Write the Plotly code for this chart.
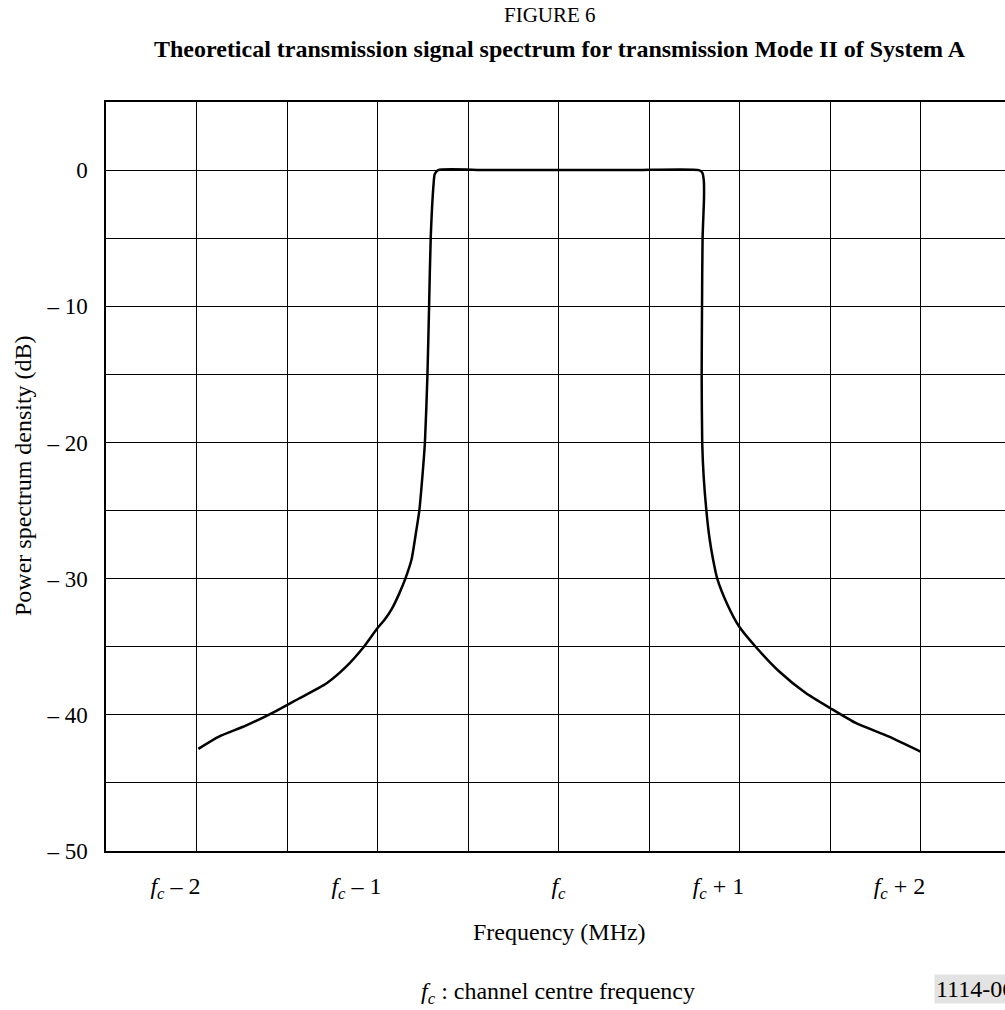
import plotly.graph_objects as go

# ---- data (MHz offset from f_c, dB) ----
freq_offset = [-1.99, -1.876, -1.728, -1.572, -1.434, -1.283, -1.176, -1.075, -1.004, -0.960,
               -0.920, -0.880, -0.846, -0.812, -0.786, -0.769, -0.752, -0.738, -0.724, -0.715,
               -0.706, -0.690, -0.684, -0.665, -0.4, 0.0, 0.4, 0.776, 0.795, 0.803, 0.804,
               0.796, 0.793, 0.791, 0.794, 0.802, 0.817, 0.834, 0.854, 0.877, 0.933, 0.997,
               1.089, 1.218, 1.366, 1.500, 1.642, 1.826, 2.000]
psd_db = [-42.5, -41.6, -40.8, -39.8, -38.8, -37.7, -36.5, -35.0, -33.7, -33.0,
          -32.2, -31.1, -30.0, -28.6, -26.5, -25.0, -22.5, -20.0, -15.0, -10.0,
          -5.0, -1.0, -0.3, 0.0, 0.0, 0.0, 0.0, 0.0, -0.2, -0.8, -2.0,
          -5.0, -10.0, -15.0, -20.0, -22.5, -25.0, -27.0, -28.6, -30.0, -31.9, -33.5,
          -35.0, -36.8, -38.4, -39.5, -40.6, -41.6, -42.7]

NB = "\u00a0" * 7
x_tick_vals = [-2, -1, 0, 1, 2]
x_tick_text = ["<i>f<sub>c</sub></i> – 2" + NB, "<i>f<sub>c</sub></i> – 1" + NB, "<i>f<sub>c</sub></i>",
               "<i>f<sub>c</sub></i> + 1" + NB, "<i>f<sub>c</sub></i> + 2" + NB]
y_tick_vals = [0, -10, -20, -30, -40, -50]
y_tick_text = ["0", "– 10", "– 20", "– 30", "– 40", "– 50"]

W, H = 1005, 1010
L, R, T, B = 106, 0, 102, 159
PW, PH = W - L - R, H - T - B


def px(xp):
    return (xp - L) / PW


def py(yp):
    return (H - B - yp) / PH


FONT = "Liberation Serif, Times New Roman, serif"
FS = 24

fig = go.Figure()
fig.add_trace(go.Scatter(x=freq_offset, y=psd_db, mode="lines",
                         line=dict(color="black", width=2.5, shape="spline", smoothing=0.6),
                         showlegend=False, hoverinfo="skip"))

fig.update_layout(
    width=W, height=H,
    margin=dict(l=L, r=R, t=T, b=B, pad=0),
    paper_bgcolor="white", plot_bgcolor="white",
    font=dict(family=FONT, color="black", size=FS),
    showlegend=False,
)

x_right = -2.5 + PW / 181.0
fig.update_xaxes(
    range=[-2.5, x_right], tickmode="array", tickvals=x_tick_vals, ticktext=x_tick_text,
    showgrid=True, gridcolor="black", gridwidth=1,
    minor=dict(dtick=0.5, tick0=0, showgrid=True, gridcolor="black", gridwidth=1),
    showline=True, linecolor="black", linewidth=1.5, mirror=True,
    ticks="", ticklabelstandoff=12, zeroline=False,
    tickfont=dict(family=FONT, size=FS),
)
fig.update_yaxes(
    range=[-50, 5], tickmode="array", tickvals=y_tick_vals, ticktext=y_tick_text,
    showgrid=True, gridcolor="black", gridwidth=1,
    minor=dict(dtick=5, tick0=0, showgrid=True, gridcolor="black", gridwidth=1),
    showline=True, linecolor="black", linewidth=1.5, mirror=False,
    ticks="", ticklabelstandoff=12, zeroline=False,
    tickfont=dict(family=FONT, size=FS - 1),
)

ann = [
    dict(text="FIGURE 6", x=px(550), y=py(15), font=dict(size=21)),
    dict(text="<b>Theoretical transmission signal spectrum for transmission Mode II of System A</b>",
         x=px(560), y=py(49), font=dict(size=FS)),
    dict(text="Frequency (MHz)", x=px(559), y=py(932), font=dict(size=FS)),
    dict(text="Power spectrum density (dB)", x=px(23), y=py(476), textangle=-90, font=dict(size=FS)),
    dict(text="<i>f<sub>c</sub></i> : channel centre frequency", x=px(558), y=py(993), font=dict(size=FS)),
    dict(text="1114-06", x=px(934), y=py(989), xanchor="left", bgcolor="#e3e3e3",
         font=dict(size=FS), borderpad=1),
]
for a in ann:
    a.setdefault("xanchor", "center")
    fig.add_annotation(xref="paper", yref="paper", showarrow=False, yanchor="middle", **a)

fig.write_html("out.html")
